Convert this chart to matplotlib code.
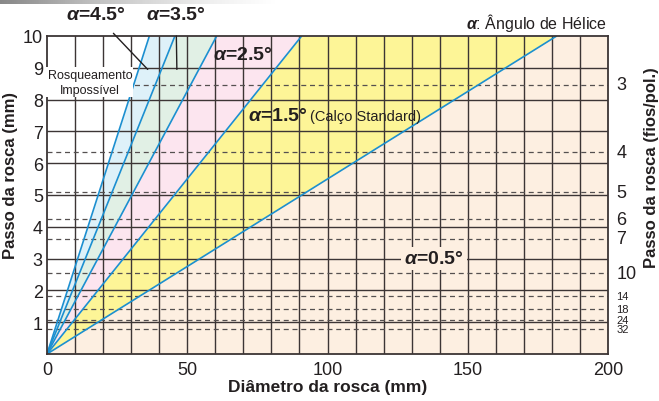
"""
Диаграмма угла подъёма резьбы (ângulo de hélice)
шаг резьбы в зависимости от диаметра
"""

import numpy as np
import matplotlib.pyplot as plt

# pylint: disable=C0103

# --- данные ---
angle_labels = ['4.5', '3.5', '2.5', '1.5', '0.5']
# диаметр (мм), где линия достигает шага 10 мм
diam_at_top = [36.5, 45.6, 60.5, 90.8, 181.7]
band_colors = ['#def1f9', '#e1f0e5', '#fce5ef', '#fdf597', '#fdefe1']
tpi_values = [3, 4, 5, 6, 7, 10, 14, 18, 24, 32]
x_ticks = [0, 50, 100, 150, 200]
y_ticks = [1, 2, 3, 4, 5, 6, 7, 8, 9, 10]

plt.rcParams['font.family'] = ['Liberation Sans', 'DejaVu Sans']
plt.rcParams['mathtext.fontset'] = 'custom'
plt.rcParams['mathtext.it'] = 'Liberation Sans:italic:bold'
plt.rcParams['mathtext.rm'] = 'Liberation Sans'
plt.rcParams['mathtext.bf'] = 'Liberation Sans:bold'

LINE_BLUE = '#1c8fd0'
GRID = '#3c3535'
TXT = '#231f20'

fig = plt.figure(figsize=(6.59, 4.02), dpi=100)
ax = fig.add_axes([47 / 659, 1 - 355 / 402, 561 / 659, 318 / 402])

d = np.linspace(0, 200, 801)
pitch = [np.minimum(10.0 * d / dt, 10.0) for dt in diam_at_top]

# заливка областей между линиями
for i in range(len(pitch) - 1):
    ax.fill_between(d, pitch[i + 1], pitch[i], color=band_colors[i],
                    lw=0, zorder=1)
ax.fill_between(d, 0, pitch[-1], color=band_colors[-1], lw=0, zorder=1)

# сетка
for xv in range(10, 200, 10):
    ax.axvline(xv, color=GRID, lw=1.0, zorder=2)
for yv in range(1, 10):
    ax.axhline(yv, color=GRID, lw=1.0, zorder=2)
for n in tpi_values:
    ax.axhline(25.4 / n, color='#555050', lw=0.9, ls=(0, (4, 3)), zorder=2)

# линии углов
for dt in diam_at_top:
    ax.plot([0, dt], [0, 10], color=LINE_BLUE, lw=1.2, zorder=3,
            solid_capstyle='butt')

ax.set_xlim(0, 200)
ax.set_ylim(0, 10)
ax.set_xticks(x_ticks)
ax.set_yticks(y_ticks)
ax.tick_params(length=0, labelsize=13, labelcolor=TXT)
ax.tick_params(axis='x', pad=5)
ax.tick_params(axis='y', pad=3)
for sp in ax.spines.values():
    sp.set_color(GRID)
    sp.set_linewidth(1.3)
    sp.set_zorder(4)

ax.set_xlabel('Diâmetro da rosca (mm)', fontsize=12.5, fontweight='bold',
              color=TXT, labelpad=1)
ax.set_ylabel('Passo da rosca (mm)', fontsize=12, fontweight='bold',
              color=TXT)
ax.yaxis.set_label_coords(-0.052, 0.566)

# правая ось: ниток на дюйм
ax2 = ax.twinx()
ax2.set_ylim(0, 10)
ax2.set_yticks([25.4 / n for n in tpi_values])
ax2.set_yticklabels([str(n) for n in tpi_values])
ax2.tick_params(length=0, pad=6, labelcolor=TXT)
for lab, n in zip(ax2.get_yticklabels(), tpi_values):
    lab.set_fontsize(13 if n <= 10 else 8)
    lab.set_verticalalignment('center')
for sp in ax2.spines.values():
    sp.set_visible(False)
ax2.set_ylabel('Passo da rosca (fios/pol.)', fontsize=12, fontweight='bold',
               color=TXT)
ax2.yaxis.set_label_coords(1.064, 0.588)

# подписи
lbl = dict(fontsize=14, fontweight='bold', color=TXT)
ax.annotate(r'$\alpha$=' + angle_labels[0] + '°', xy=(35.9, 8.95),
            xytext=(96 / 659, 1 - 16 / 402), textcoords='figure fraction',
            ha='center', va='center', zorder=6,
            arrowprops=dict(arrowstyle='-', color=TXT, lw=1.0,
                            shrinkA=7, shrinkB=0), **lbl)
ax.annotate(r'$\alpha$=' + angle_labels[1] + '°', xy=(46.3, 8.95),
            xytext=(176 / 659, 1 - 16 / 402), textcoords='figure fraction',
            ha='center', va='center', zorder=6,
            arrowprops=dict(arrowstyle='-', color=TXT, lw=1.0,
                            shrinkA=7, shrinkB=0,
                            connectionstyle='arc3'), **lbl)
ax.text(69.8, 9.43, r'$\alpha$=' + angle_labels[2] + '°', ha='center',
        va='center', zorder=6, **lbl)
t15 = ax.text(71.5, 7.5, r'$\alpha$=' + angle_labels[3] + '°', ha='left',
              va='center', zorder=6, **lbl)
ax.annotate('(Calço Standard)', xycoords=t15, xy=(1, 0.5),
            xytext=(2, 0), textcoords='offset points', ha='left',
            va='center', fontsize=10.5, color=TXT, zorder=6)
ax.text(138, 3.0, r'$\alpha$=' + angle_labels[4] + '°', ha='center',
        va='center', zorder=6,
        bbox=dict(boxstyle='square,pad=0.15', fc='#fdefe1', ec='none'), **lbl)
ax.text(15.3, 8.55, 'Rosqueamento\nImpossível', ha='center', va='center',
        fontsize=9, color=TXT, linespacing=1.35, zorder=6,
        bbox=dict(boxstyle='square,pad=0.1', fc='white', ec='none'))
fig.text(607 / 659, 1 - 23 / 402, r'$\alpha$: Ângulo de Hélice',
         ha='right', va='center', fontsize=11.5, color=TXT)

# серая полоса сверху
bar = fig.add_axes([0, 1 - 5 / 402, 0.42, 5 / 402])
bar.imshow(np.linspace(0.55, 0, 256)[None, :], aspect='auto', cmap='Greys',
           vmin=0, vmax=1)
bar.axis('off')

fig.savefig('out.png', dpi=100)
